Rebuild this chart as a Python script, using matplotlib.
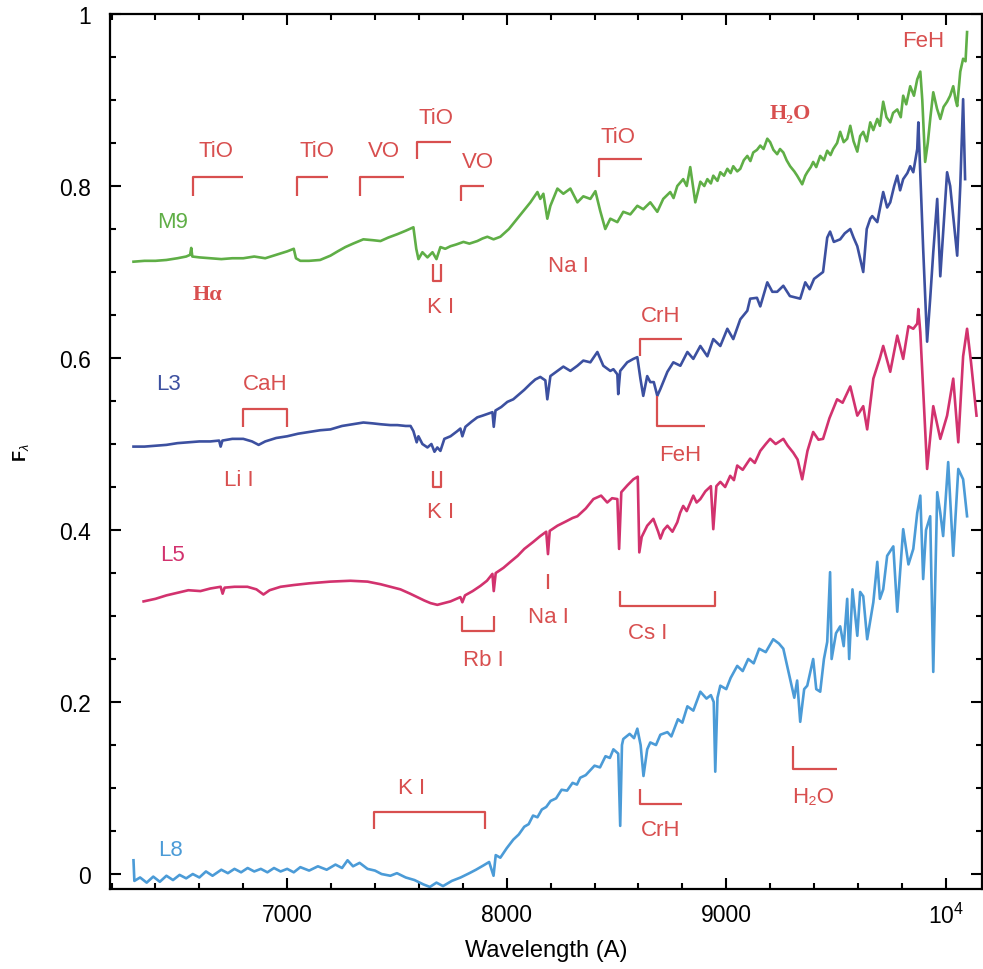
import numpy as np
import matplotlib
matplotlib.use('Agg')
import matplotlib.pyplot as plt
from matplotlib.ticker import MultipleLocator, FixedLocator

plt.rcParams['font.family'] = ['Liberation Sans', 'DejaVu Sans']
plt.rcParams['mathtext.fontset'] = 'custom'
plt.rcParams['mathtext.rm'] = 'Liberation Sans'
plt.rcParams['mathtext.it'] = 'Liberation Sans:italic'

# spectra (wavelength in A, normalised flux)
m9_wl = [6300, 6350, 6400, 6450, 6500, 6540, 6558, 6563, 6568, 6600, 6650, 6700, 6750, 6800, 6850,
         6900, 6950, 7000, 7030, 7040, 7060, 7100, 7150, 7197, 7230, 7265, 7300, 7347, 7390, 7425,
         7460, 7502, 7540, 7575, 7588, 7598, 7616, 7639, 7662, 7680, 7698, 7720, 7744, 7770, 7803,
         7830, 7866, 7890, 7912, 7940, 7971, 8010, 8048, 8080, 8108, 8140, 8153, 8167, 8185, 8199,
         8231, 8258, 8290, 8322, 8349, 8381, 8404, 8426, 8449, 8472, 8504, 8531, 8563, 8595, 8622,
         8654, 8686, 8713, 8745, 8760, 8777, 8804, 8820, 8836, 8859, 8882, 8900, 8914, 8930, 8941,
         8960, 8973, 8990, 9005, 9020, 9032, 9050, 9064, 9080, 9096, 9110, 9123, 9140, 9155, 9170,
         9187, 9200, 9215, 9232, 9245, 9260, 9275, 9291, 9310, 9323, 9346, 9360, 9369, 9385, 9396,
         9410, 9428, 9445, 9460, 9475, 9487, 9505, 9519, 9535, 9551, 9565, 9580, 9597, 9610, 9624,
         9640, 9656, 9670, 9688, 9700, 9715, 9730, 9747, 9760, 9779, 9795, 9806, 9820, 9838, 9855,
         9870, 9884, 9893, 9906, 9918, 9930, 9943, 9960, 9975, 9990, 10006, 10020, 10034, 10045,
         10052, 10066, 10079, 10090, 10097]
m9_flux = [.712, .713, .713, .714, .716, .718, .720, .728, .718, .717, .716, .715, .716, .716, .718,
           .716, .720, .724, .727, .716, .713, .713, .714, .719, .724, .729, .733, .738, .737, .736,
           .740, .744, .748, .752, .727, .715, .723, .717, .723, .715, .729, .727, .730, .732, .735,
           .733, .736, .739, .741, .738, .741, .750, .762, .772, .781, .793, .785, .791, .762, .777,
           .797, .791, .797, .781, .788, .785, .794, .771, .750, .762, .758, .770, .767, .777, .773,
           .781, .770, .785, .793, .786, .800, .808, .800, .822, .781, .805, .800, .808, .803, .812,
           .806, .816, .812, .820, .815, .823, .817, .820, .830, .835, .829, .839, .842, .847, .843,
           .855, .851, .842, .837, .843, .839, .830, .823, .817, .812, .802, .812, .816, .822, .828,
           .822, .835, .830, .841, .836, .843, .850, .863, .851, .855, .870, .852, .840, .858, .863,
           .852, .874, .865, .878, .870, .898, .880, .874, .885, .889, .880, .905, .895, .916, .905,
           .924, .933, .900, .828, .850, .880, .909, .890, .878, .892, .898, .905, .916, .900,
           .893, .933, .948, .945, .979]

l3_wl = [6300, 6350, 6400, 6450, 6500, 6550, 6600, 6650, 6690, 6697, 6705, 6750, 6800, 6840, 6870,
         6900, 6950, 7000, 7050, 7100, 7150, 7197, 7250, 7300, 7347, 7390, 7425, 7470, 7502, 7540,
         7562, 7575, 7590, 7598, 7616, 7639, 7657, 7671, 7684, 7698, 7716, 7744, 7775, 7789, 7798,
         7812, 7840, 7866, 7890, 7912, 7935, 7941, 7949, 7975, 8003, 8030, 8048, 8080, 8108, 8130,
         8153, 8176, 8185, 8199, 8231, 8258, 8290, 8322, 8349, 8381, 8413, 8440, 8472, 8486, 8504,
         8508, 8517, 8549, 8577, 8595, 8609, 8622, 8640, 8654, 8670, 8686, 8700, 8732, 8759, 8791,
         8823, 8850, 8882, 8914, 8941, 8973, 9005, 9032, 9064, 9096, 9109, 9140, 9155, 9187, 9210,
         9232, 9260, 9290, 9337, 9360, 9380, 9400, 9441, 9460, 9473, 9490, 9519, 9540, 9565, 9580,
         9597, 9624, 9640, 9656, 9665, 9688, 9715, 9733, 9747, 9765, 9779, 9792, 9806, 9825, 9838,
         9852, 9870, 9875, 9897, 9915, 9929, 9943, 9961, 9975, 10006, 10020, 10052, 10066, 10079,
         10088]
l3_flux = [.497, .497, .498, .499, .501, .502, .503, .503, .504, .497, .504, .506, .506, .503, .499,
           .503, .507, .509, .512, .514, .516, .517, .521, .523, .525, .524, .523, .522, .522, .521,
           .521, .515, .502, .509, .500, .496, .500, .491, .496, .492, .506, .509, .515, .518, .509,
           .520, .526, .531, .533, .535, .537, .520, .539, .543, .549, .552, .556, .563, .570, .575,
           .578, .574, .552, .579, .585, .590, .585, .591, .597, .595, .607, .591, .585, .587, .581,
           .558, .585, .595, .599, .601, .576, .556, .579, .572, .572, .556, .564, .584, .595, .591,
           .607, .599, .614, .602, .622, .614, .634, .622, .645, .655, .669, .670, .660, .688, .677,
           .677, .684, .672, .669, .688, .680, .692, .700, .740, .747, .735, .738, .745, .750, .740,
           .730, .700, .750, .762, .765, .758, .793, .775, .781, .800, .812, .795, .808, .815, .823,
           .816, .843, .874, .727, .619, .669, .723, .785, .695, .816, .800, .719, .800, .901,
           .808]

l5_wl = [6346, 6400, 6450, 6500, 6550, 6605, 6650, 6697, 6706, 6715, 6760, 6819, 6860, 6892, 6920,
         6970, 7029, 7100, 7197, 7288, 7366, 7425, 7470, 7516, 7560, 7593, 7625, 7653, 7684, 7715,
         7744, 7789, 7798, 7810, 7845, 7880, 7910, 7935, 7941, 7950, 7985, 8017, 8050, 8080, 8120,
         8153, 8180, 8188, 8196, 8231, 8270, 8300, 8322, 8360, 8395, 8430, 8458, 8480, 8504, 8512,
         8522, 8550, 8577, 8597, 8604, 8615, 8640, 8668, 8690, 8700, 8715, 8732, 8755, 8777, 8790,
         8804, 8820, 8850, 8865, 8882, 8905, 8930, 8941, 8955, 8973, 8995, 9018, 9035, 9050, 9075,
         9109, 9130, 9155, 9180, 9200, 9225, 9260, 9280, 9305, 9325, 9346, 9370, 9396, 9420, 9441,
         9470, 9505, 9530, 9565, 9597, 9624, 9642, 9670, 9700, 9715, 9747, 9779, 9806, 9830, 9852,
         9870, 9875, 9884, 9915, 9943, 9975, 10006, 10034, 10057, 10079, 10097, 10115, 10140]
l5_flux = [.317, .320, .324, .327, .330, .329, .332, .334, .326, .333, .334, .334, .331, .325, .330,
           .334, .336, .338, .340, .341, .340, .337, .334, .331, .326, .322, .318, .315, .313, .315,
           .317, .322, .316, .324, .329, .335, .341, .349, .329, .350, .356, .363, .370, .378, .386,
           .393, .398, .372, .399, .405, .410, .414, .416, .425, .436, .440, .432, .437, .436, .378,
           .444, .452, .459, .462, .374, .392, .405, .413, .398, .390, .400, .405, .398, .409, .420,
           .428, .422, .440, .432, .436, .445, .451, .401, .451, .456, .450, .463, .458, .475, .470,
           .483, .478, .492, .500, .506, .500, .506, .498, .490, .482, .459, .492, .514, .505, .506,
           .530, .552, .548, .567, .533, .544, .517, .576, .600, .614, .584, .626, .599, .637, .634,
           .640, .657, .630, .471, .544, .506, .533, .576, .502, .602, .634, .595, .533]

l8_wl = [6300, 6304, 6330, 6360, 6390, 6420, 6450, 6480, 6510, 6540, 6570, 6600, 6630, 6660, 6700,
         6730, 6760, 6790, 6820, 6850, 6880, 6910, 6940, 6970, 7000, 7030, 7060, 7100, 7140, 7180,
         7220, 7250, 7275, 7300, 7330, 7366, 7400, 7430, 7470, 7500, 7540, 7580, 7620, 7650, 7680,
         7710, 7750, 7790, 7830, 7860, 7894, 7920, 7940, 7950, 7971, 8000, 8030, 8055, 8080, 8100,
         8120, 8140, 8160, 8180, 8200, 8225, 8250, 8275, 8300, 8320, 8335, 8360, 8400, 8425, 8450,
         8470, 8486, 8508, 8517, 8525, 8531, 8560, 8580, 8595, 8610, 8623, 8640, 8654, 8680, 8700,
         8732, 8750, 8780, 8800, 8823, 8850, 8882, 8910, 8930, 8943, 8950, 8960, 8973, 9000, 9020,
         9050, 9075, 9100, 9125, 9150, 9180, 9214, 9240, 9260, 9291, 9310, 9323, 9337, 9355, 9369,
         9396, 9410, 9428, 9445, 9460, 9473, 9480, 9500, 9519, 9535, 9551, 9560, 9575, 9597, 9610,
         9624, 9642, 9670, 9688, 9700, 9715, 9733, 9761, 9779, 9806, 9830, 9852, 9870, 9884, 9897,
         9910, 9929, 9943, 9961, 9975, 9988, 10011, 10034, 10057, 10079, 10097]
l8_flux = [.016, -.008, -.004, -.010, -.003, -.009, -.002, -.007, -.001, -.005, .000, -.004, .003, -.002, .005,
           .001, .006, .002, .007, .003, .006, .002, .007, .003, .006, .002, .008, .004, .009, .005,
           .011, .007, .016, .009, .013, .006, .004, .000, -.002, .001, -.004, -.007, -.012, -.015, -.010,
           -.014, -.008, -.004, .001, .005, .010, .014, -.002, .022, .019, .030, .040, .046, .055, .058,
           .068, .066, .075, .078, .085, .088, .098, .097, .106, .104, .112, .115, .126, .124, .137,
           .135, .145, .140, .056, .150, .157, .163, .158, .169, .150, .114, .145, .153, .150, .162,
           .165, .160, .180, .176, .195, .190, .212, .204, .208, .200, .119, .205, .219, .215, .228,
           .242, .236, .250, .245, .262, .258, .273, .268, .262, .227, .205, .225, .177, .215, .219,
           .250, .215, .212, .250, .270, .351, .250, .280, .288, .265, .320, .250, .331, .277, .328,
           .323, .273, .316, .363, .320, .331, .370, .381, .305, .401, .360, .378, .420, .440, .343,
           .400, .416, .235, .444, .420, .393, .479, .370, .471, .459, .416]

spec_names = ['M9', 'L3', 'L5', 'L8']
spec_label_pos = [(6478, 0.759), (6460, 0.570), (6478, 0.372), (6470, 0.029)]
spec_colors = ['#5fae46', '#3c50a0', '#d2326e', '#4b9bd7']

# feature markers: (xs, ys) polylines
brackets = [
    ([6570, 6570, 6797], [0.788, 0.810, 0.810]),
    ([7044, 7044, 7184], [0.788, 0.810, 0.810]),
    ([7334, 7334, 7531], [0.788, 0.810, 0.810]),
    ([7590, 7590, 7744], [0.831, 0.851, 0.851]),
    ([7794, 7794, 7898], [0.782, 0.800, 0.800]),
    ([8422, 8422, 8617], [0.810, 0.831, 0.831]),
    ([7665, 7665, 7699, 7699], [0.709, 0.690, 0.690, 0.709]),
    ([6797, 6797, 6998, 6998], [0.520, 0.541, 0.541, 0.520]),
    ([7665, 7665, 7699, 7699], [0.469, 0.450, 0.450, 0.469]),
    ([8609, 8609, 8800], [0.602, 0.622, 0.622]),
    ([8686, 8686, 8905], [0.556, 0.521, 0.521]),
    ([7798, 7798, 7940, 7940], [0.300, 0.283, 0.283, 0.300]),
    ([8190, 8190], [0.331, 0.349]),
    ([8517, 8517, 8950, 8950], [0.329, 0.312, 0.312, 0.329]),
    ([7395, 7395, 7899, 7899], [0.052, 0.072, 0.072, 0.052]),
    ([8609, 8609, 8800], [0.099, 0.081, 0.081]),
    ([9305, 9305, 9505], [0.149, 0.122, 0.122]),
]

# feature labels: (text, x, y, bold-serif?)
feature_labels = [
    ('TiO', 6674, 0.841, False), ('TiO', 7135, 0.841, False), ('VO', 7440, 0.841, False),
    ('TiO', 7676, 0.880, False), ('VO', 7868, 0.829, False), ('TiO', 8508, 0.858, False),
    ('H\u2082O', 9292, 0.885, True), ('FeH', 9898, 0.969, False), ('H\u03b1', 6637, 0.674, True),
    ('K I', 7698, 0.660, False), ('Na I', 8281, 0.707, False),
    ('CaH', 6901, 0.570, False), ('Li I', 6778, 0.459, False), ('K I', 7698, 0.421, False),
    ('CrH', 8700, 0.649, False), ('FeH', 8791, 0.488, False),
    ('Rb I', 7894, 0.250, False), ('Na I', 8190, 0.300, False), ('Cs I', 8641, 0.281, False),
    ('K I', 7566, 0.101, False), ('CrH', 8700, 0.052, False), ('H\u2082O', 9396, 0.090, False),
]

x_ticks = [7000, 8000, 9000, 10000]
x_ticklabels = ['7000', '8000', '9000', '$10^4$']
y_ticks = [0, 0.2, 0.4, 0.6, 0.8, 1]
y_ticklabels = ['0', '0.2', '0.4', '0.6', '0.8', '1']

red = '#d84f4f'

fig = plt.figure(figsize=(9.83, 9.70), dpi=100)
ax = fig.add_axes([110 / 983, 1 - 890 / 970, 872 / 983, 875 / 970])

spectra = [(m9_wl, m9_flux), (l3_wl, l3_flux), (l5_wl, l5_flux), (l8_wl, l8_flux)]
for (wl, fl), name, pos, col in zip(spectra, spec_names, spec_label_pos, spec_colors):
    ax.plot(wl, fl, color=col, lw=1.9)
    ax.text(pos[0], pos[1], name, color=col, fontsize=16, ha='center', va='center')

for xs, ys in brackets:
    ax.plot(xs, ys, color=red, lw=1.6, solid_capstyle='butt')

for txt, x, y, bold in feature_labels:
    if bold:
        ax.text(x, y, txt, color=red, fontsize=16, ha='center', va='center',
                fontweight='bold', family=['Liberation Serif', 'DejaVu Serif'])
    else:
        ax.text(x, y, txt, color=red, fontsize=16, ha='center', va='center')

ax.set_xlim(6193, 10165)
ax.set_ylim(-0.0174, 1.0)
ax.xaxis.set_major_locator(FixedLocator(x_ticks))
ax.set_xticklabels(x_ticklabels)
ax.xaxis.set_minor_locator(MultipleLocator(200))
ax.yaxis.set_major_locator(FixedLocator(y_ticks))
ax.set_yticklabels(y_ticklabels)
ax.yaxis.set_minor_locator(MultipleLocator(0.05))
ax.tick_params(which='both', direction='in', top=True, right=True, width=1.5, labelsize=16.5)
ax.tick_params(which='major', length=8)
ax.tick_params(which='minor', length=4)
ax.tick_params(axis='x', pad=10)
ax.tick_params(axis='y', pad=14)
for sp in ax.spines.values():
    sp.set_linewidth(1.6)

ax.set_xlabel('Wavelength (A)', fontsize=17, labelpad=8)
ax.set_ylabel('F$_\\lambda$', fontsize=13, fontweight='bold', labelpad=20)

fig.savefig('out.png', dpi=100, facecolor='white')
